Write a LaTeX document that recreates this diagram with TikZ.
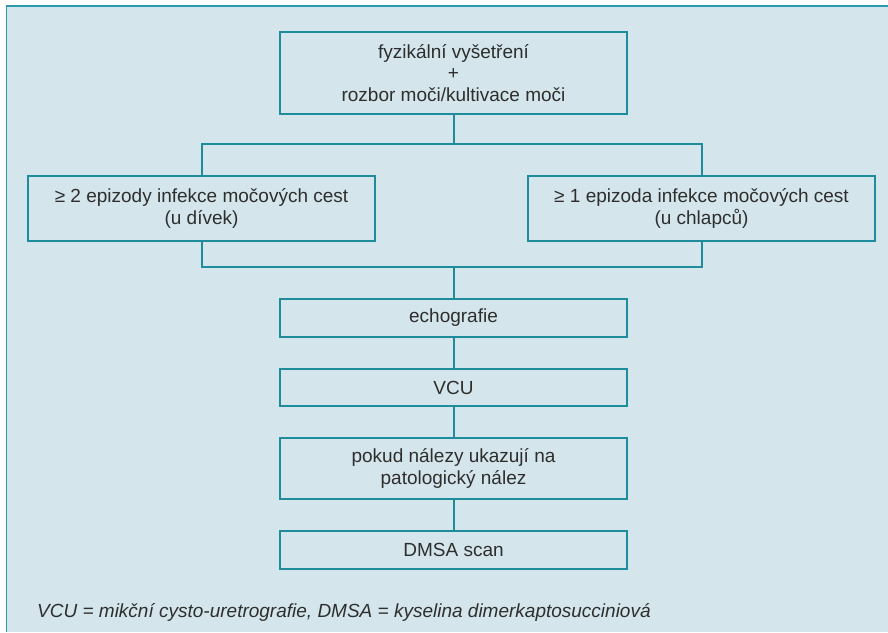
\documentclass[tikz,border=0pt]{standalone}
\usepackage{fontspec}
\setmainfont{Liberation Sans}
\usepackage{xcolor}
\usetikzlibrary{positioning}

\definecolor{panelbg}{HTML}{D4E6EB}
\definecolor{teal}{HTML}{1F8C9C}
\definecolor{frameline}{HTML}{2A9AAE}
\definecolor{inkgrey}{HTML}{2E2E2E}

\begin{document}
\begin{tikzpicture}[
    x=1pt, y=1pt,
    box/.style={
        draw=teal,
        line width=2pt,
        rectangle,
        minimum width=347pt,
        align=center,
        text=inkgrey,
        font=\fontsize{19}{21.7}\selectfont
    },
    link/.style={
        draw=teal,
        line width=2pt
    },
    node distance=30pt
]

% panel
\useasboundingbox (0,0) rectangle (888,632);
\fill[panelbg] (6,626) rectangle (888,0);
\draw[frameline, line width=1.6pt] (6,626) -- (888,626);
\draw[frameline, line width=1pt] (6,626) -- (6,0);

\node[box, minimum height=82pt] (exam) at (453.5,559) {fyzikální vyšetření\\+\\rozbor moči/kultivace moči};
\node[box, minimum height=65pt] (girls) at (201.5,423.5) {≥ 2 epizody infekce močových cest\\(u dívek)};
\node[box, minimum height=65pt] (boys) at (701.5,423.5) {≥ 1 epizoda infekce močových cest\\(u chlapců)};
\node[box, minimum height=38pt] (echo) at (453.5,314) {echografie};
\node[box, minimum height=37pt, below=of echo] (vcu) {VCU};
\node[box, minimum height=61pt, below=of vcu] (finding) {pokud nálezy ukazují na\\patologický nález};
\node[box, minimum height=38pt, below=of finding] (dmsa) {DMSA scan};

\coordinate (split) at (453.5,488);
\coordinate (join) at (453.5,365);

\draw[link] (exam) -- (split);
\draw[link] (girls.north) |- (split) -| (boys.north);
\draw[link] (girls.south) |- (join) -| (boys.south);
\draw[link] (join) -- (echo);
\draw[link] (echo) -- (vcu);
\draw[link] (vcu) -- (finding);
\draw[link] (finding) -- (dmsa);

% legend
\node[anchor=base west, inner sep=0pt, text=inkgrey, font=\fontsize{19}{22}\selectfont\itshape] (legend) at (37,15)
    {VCU = mikční cysto-uretrografie, DMSA = kyselina dimerkaptosucciniová};

\end{tikzpicture}
\end{document}
